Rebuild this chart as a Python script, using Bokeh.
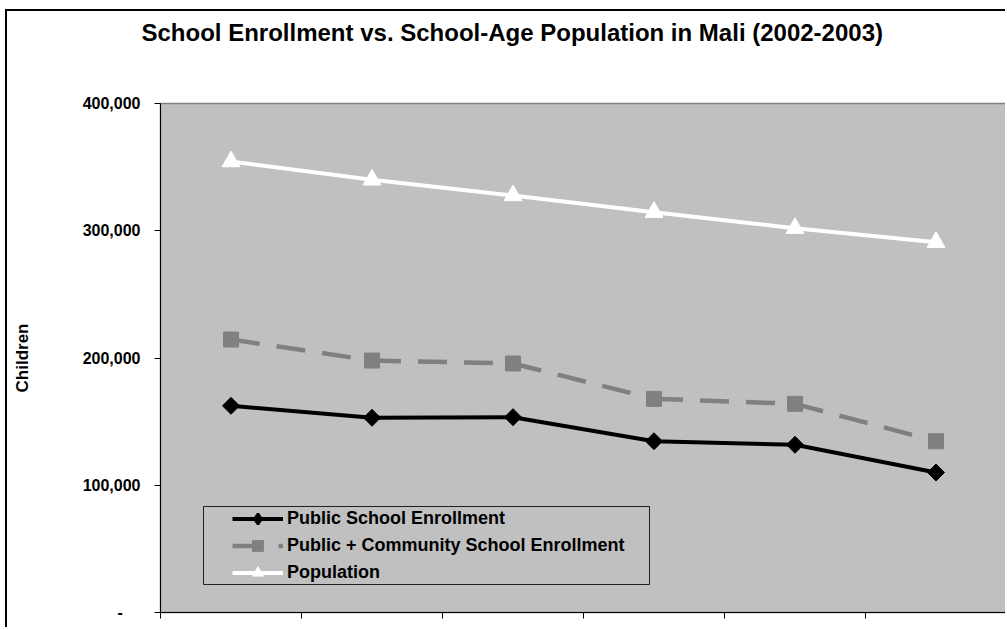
import math

from bokeh.embed import file_html
from bokeh.models import (BoxAnnotation, FixedTicker, Legend, LegendItem,
                          NumeralTickFormatter, Range1d, Title)
from bokeh.plotting import figure
from bokeh.resources import INLINE

# ---- data -----------------------------------------------------------------
chart_title = "School Enrollment vs. School-Age Population in Mali (2002-2003)"
y_label = "Children"
series_names = [
    "Public School Enrollment",
    "Public + Community School Enrollment",
    "Population",
]
public_enrollment = [162400, 153000, 153500, 134600, 131800, 110000]
public_community_enrollment = [214500, 198000, 195700, 167900, 164000, 134600]
population = [354400, 340000, 327700, 314600, 302000, 291000]
y_ticks = [0, 100000, 200000, 300000, 400000]
y_max = 400000

# one slot per age group, points sit in the middle of each slot
n = len(population)
xs = [i + 0.5 for i in range(n)]

FONT = "Liberation Sans"
GREY_BG = "#C0C0C0"
GREY_LINE = "#808080"

p = figure(
    width=1000, height=618,
    output_backend="svg", toolbar_location=None,
    x_range=Range1d(0, n), y_range=Range1d(0, y_max),
    min_border_left=153, min_border_right=1,
    min_border_top=92, min_border_bottom=17,
    background_fill_color=GREY_BG,
    border_fill_color="white",
    outline_line_color=GREY_LINE, outline_line_width=1.5,
)
p.margin = (9, 0, 0, 5)
p.styles = {"border-left": "2px solid #000", "border-top": "2px solid #000"}

# empty band between the title and the plot area
p.add_layout(Title(text=" ", text_font_size="1px", standoff=47), "above")

# chart title, at the top of the chart box
p.title.text = chart_title
p.title.text_font = FONT
p.title.text_font_style = "bold"
p.title.text_font_size = "24px"
p.title.text_color = "black"
p.title.align = "left"
p.title.offset = -19
p.title.vertical_align = "top"
p.title.standoff = 12

p.xgrid.visible = False
p.ygrid.visible = False

# x axis: category boundaries only, no labels
p.xaxis.ticker = FixedTicker(ticks=list(range(n + 1)))
p.xaxis.major_label_text_color = None
p.xaxis.major_label_text_font_size = "1px"
p.xaxis.axis_line_color = "black"
p.xaxis.major_tick_line_color = "black"
p.xaxis.major_tick_out = 6
p.xaxis.major_tick_in = 0
p.xaxis.minor_tick_line_color = None

# y axis
p.yaxis.ticker = FixedTicker(ticks=y_ticks)
p.yaxis.formatter = NumeralTickFormatter(format="0,0")
p.yaxis.major_label_overrides = {0: "-\u00a0\u00a0\u00a0\u00a0"}
p.yaxis.major_label_text_font = FONT
p.yaxis.major_label_text_font_style = "bold"
p.yaxis.major_label_text_font_size = "16px"
p.yaxis.major_label_text_color = "black"
p.yaxis.major_label_standoff = 14
p.yaxis.axis_line_color = "black"
p.yaxis.major_tick_line_color = "black"
p.yaxis.major_tick_out = 6
p.yaxis.major_tick_in = 0
p.yaxis.minor_tick_line_color = None
p.yaxis.axis_label = y_label
p.yaxis.axis_label_text_font = FONT
p.yaxis.axis_label_text_font_style = "bold"
p.yaxis.axis_label_text_font_size = "17px"
p.yaxis.axis_label_text_color = "black"
p.yaxis.axis_label_standoff = 48

# public + community enrollment: dashed grey line with squares
dash_r = p.segment(x0=xs[:-1], y0=public_community_enrollment[:-1],
                   x1=xs[1:], y1=public_community_enrollment[1:],
                   line_color=GREY_LINE, line_width=4.5, line_dash="29 17")
sq_r = p.scatter(xs, public_community_enrollment, marker="square", size=15,
                 fill_color=GREY_LINE, line_color=GREY_LINE)

# public enrollment: solid black line with diamonds
pub_line = p.line(xs, public_enrollment, line_color="black", line_width=4)
# plain diamond glyph (used as the legend swatch), covered by the square ones
pub_key = p.scatter(xs, public_enrollment, marker="diamond", size=11,
                    fill_color="black", line_color="black", line_width=2.5)
pub_pts = p.scatter(xs, public_enrollment, marker="square", size=12,
                    angle=math.pi / 4, fill_color="black", line_color="black")

# population: white line with triangles
pop_line = p.line(xs, population, line_color="white", line_width=4)
pop_pts = p.scatter(xs, population, marker="triangle", size=18,
                    fill_color="white", line_color="white")

# legend frame
legend_box = BoxAnnotation(left=43, right=489, bottom=28, top=106,
                           left_units="screen", right_units="screen",
                           bottom_units="screen", top_units="screen",
                           fill_color=GREY_BG, fill_alpha=1.0,
                           line_color="#202020", line_width=1, line_alpha=1.0)
p.add_layout(legend_box)

legend = Legend(
    items=[
        LegendItem(label=series_names[0], renderers=[pub_line, pub_key]),
        LegendItem(label=series_names[1], renderers=[dash_r, sq_r]),
        LegendItem(label=series_names[2], renderers=[pop_line, pop_pts]),
    ],
    location=(72, 26),
    padding=0, spacing=0, margin=0,
    glyph_width=51, glyph_height=27, label_height=27, label_standoff=4,
    background_fill_alpha=0, border_line_color=None,
    label_text_font=FONT, label_text_font_style="bold",
    label_text_font_size="18px", label_text_color="black",
)
p.add_layout(legend, "center")

open("out.html", "w").write(file_html(p, INLINE))
